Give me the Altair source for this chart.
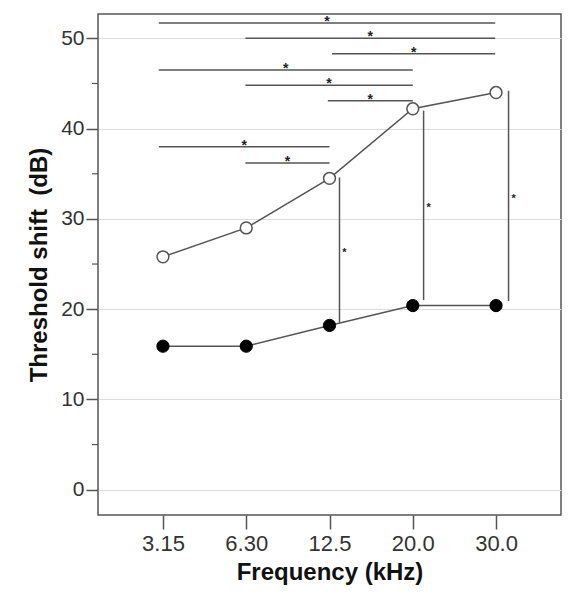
import altair as alt
import pandas as pd

# frequency categories and the two threshold-shift series (dB)
freq_labels = ["3.15", "6.30", "12.5", "20.0", "30.0"]
open_vals = [25.8, 29.0, 34.5, 42.2, 44.0]
filled_vals = [15.9, 15.9, 18.2, 20.4, 20.4]

# horizontal significance bars (x in category index units)
hbar_x1 = [-0.05, 0.99, 2.03, -0.05, 0.99, 1.98, -0.05, 0.99]
hbar_x2 = [3.99, 3.99, 3.99, 3.0, 3.0, 3.0, 2.0, 2.0]
hbar_y = [51.7, 50.0, 48.3, 46.5, 44.8, 43.1, 38.0, 36.2]

# vertical significance bars between the two series
vbar_x = [2.12, 3.13, 4.15]
vbar_y1 = [18.5, 21.0, 20.9]
vbar_y2 = [34.6, 42.0, 44.2]

major_ticks = [0, 10, 20, 30, 40, 50]
minor_ticks = [5, 15, 25, 35, 45]

LINE = "#555555"

series = pd.DataFrame({
    "idx": list(range(len(freq_labels))) * 2,
    "value": open_vals + filled_vals,
    "group": ["open"] * len(open_vals) + ["filled"] * len(filled_vals),
})
hbars = pd.DataFrame({"x1": hbar_x1, "x2": hbar_x2, "y": hbar_y})
vbars = pd.DataFrame({"x": vbar_x, "y1": vbar_y1, "y2": vbar_y2})
minor = pd.DataFrame({"v": minor_ticks})

label_expr = "[" + ",".join(f"'{s}'" for s in freq_labels) + "][datum.value]"

x_scale = alt.Scale(domain=[-0.78, 4.78], nice=False, zero=False)
y_scale = alt.Scale(domain=[-2.8, 52.7], nice=False, zero=False)

x_axis = alt.Axis(
    title="Frequency (kHz)", values=list(range(len(freq_labels))),
    labelExpr=label_expr, grid=False, tickSize=14, labelPadding=4,
    labelFontSize=22, titlePadding=6, domain=False,
)
y_axis = alt.Axis(
    title="Threshold shift\u00a0 (dB)", values=major_ticks, grid=True,
    tickSize=12, labelPadding=2, labelFontSize=21, titlePadding=9,
    domain=False,
)

base = alt.Chart(series)

lines = base.mark_line(color=LINE, strokeWidth=1.5).encode(
    x=alt.X("idx:Q", scale=x_scale, axis=x_axis),
    y=alt.Y("value:Q", scale=y_scale, axis=y_axis),
    detail="group:N",
)

open_pts = base.transform_filter(alt.datum.group == "open").mark_point(
    shape="circle", filled=True, fill="white", stroke=LINE, strokeWidth=1.5,
    size=140, opacity=1,
).encode(x="idx:Q", y="value:Q")

filled_pts = base.transform_filter(alt.datum.group == "filled").mark_point(
    shape="circle", filled=True, fill="black", stroke="black", strokeWidth=1,
    size=150, opacity=1,
).encode(x="idx:Q", y="value:Q")

h_rules = alt.Chart(hbars).mark_rule(color=LINE, strokeWidth=1.5).encode(
    x="x1:Q", x2="x2:Q", y="y:Q",
)
h_stars = alt.Chart(hbars).transform_calculate(
    xm="(datum.x1 + datum.x2) / 2"
).mark_text(
    text="*", fontSize=14, color="#222222", baseline="middle", dy=-1,
    font="Liberation Sans", fontWeight="bold",
).encode(x="xm:Q", y="y:Q")

v_rules = alt.Chart(vbars).mark_rule(color=LINE, strokeWidth=1.5).encode(
    x="x:Q", y="y1:Q", y2="y2:Q",
)
v_stars = alt.Chart(vbars).transform_calculate(
    ym="(datum.y1 + datum.y2) / 2"
).mark_text(
    text="*", fontSize=11, color="#222222", baseline="middle", dx=5, dy=3,
    font="Liberation Sans", fontWeight="bold",
).encode(x="x:Q", y="ym:Q")

minor_rules = alt.Chart(minor).mark_rule(color=LINE, strokeWidth=1.2).encode(
    x=alt.value(-6), x2=alt.value(0), y="v:Q",
)

chart = (
    alt.layer(lines, h_rules, v_rules, minor_rules, h_stars, v_stars,
              open_pts, filled_pts)
    .properties(
        width=463, height=501,
        padding={"left": 90, "top": 6, "right": 10, "bottom": 90},
        autosize=alt.AutoSizeParams(type="none"),
    )
    .configure_view(stroke=LINE, strokeWidth=1.5)
    .configure_axis(
        labelFont="Liberation Sans", titleFont="Liberation Sans",
        titleFontSize=24, labelColor="#333333",
        titleColor="#111111", titleFontWeight="bold",
        tickColor=LINE, tickWidth=1.5, gridColor="#dddddd", gridWidth=1,
    )
)

chart.save("out.html", embed_options={"renderer": "svg", "actions": False})
